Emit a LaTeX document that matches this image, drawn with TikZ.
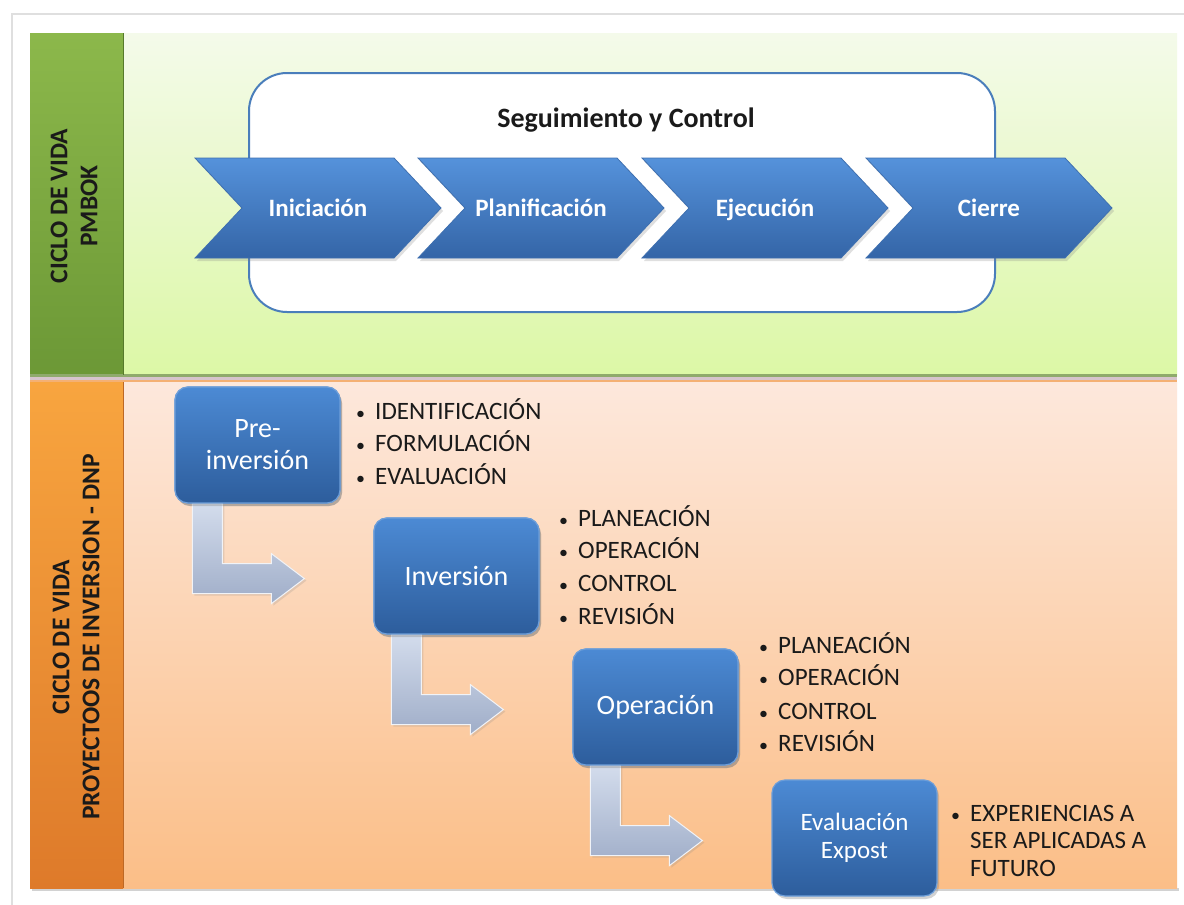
\documentclass[tikz,border=0pt]{standalone}
\usepackage{fontspec}
\usepackage{graphicx}
\setmainfont{Carlito}
\usetikzlibrary{calc,shadows}
\definecolor{grA}{HTML}{F4FAEA}
\definecolor{grB}{HTML}{DCF8A6}
\definecolor{gcA}{HTML}{8CB84B}
\definecolor{gcB}{HTML}{6C9836}
\definecolor{orA}{HTML}{FDE8DC}
\definecolor{orB}{HTML}{FBBE87}
\definecolor{ocA}{HTML}{F8A53F}
\definecolor{ocB}{HTML}{DE7A2A}
\definecolor{blA}{HTML}{5592DB}
\definecolor{blB}{HTML}{3465A7}
\definecolor{blE}{HTML}{3F70B0}
\definecolor{bxA}{HTML}{4C8AD4}
\definecolor{bxB}{HTML}{2D5D9C}
\definecolor{bxE}{HTML}{6D9ED9}
\definecolor{arA}{HTML}{D3DCEC}
\definecolor{arB}{HTML}{9FADC8}
\definecolor{frame}{HTML}{4A7EBB}
\definecolor{txt}{HTML}{1A1A1A}
\definecolor{sepA}{HTML}{8FAA6C}
\definecolor{sepB}{HTML}{D6C4CC}
\definecolor{sepC}{HTML}{F4B073}
\tikzset{
  chevshape/.style={top color=blA, bottom color=blB, draw=blE, line width=0.8pt,
    drop shadow={shadow xshift=2pt, shadow yshift=-3pt, opacity=0.25}},
  chevtext/.style={text=white, font=\bfseries\fontsize{25}{30}\selectfont, inner sep=0pt, anchor=base},
  bbox/.style={rectangle, rounded corners=13pt, minimum width=165pt, minimum height=116pt,
    top color=bxA, bottom color=bxB, draw=bxE, line width=1.2pt, text=white,
    align=center, font=\fontsize{28}{32}\selectfont, inner sep=0pt,
    drop shadow={shadow xshift=2pt, shadow yshift=-3pt, opacity=0.35}},
  barrow/.style={top color=arA, bottom color=arB, draw=white!85!arB, line width=1pt,
    drop shadow={shadow xshift=2pt, shadow yshift=-2pt, opacity=0.2}},
  item/.style={anchor=base west, inner sep=0pt, text=txt, font=\fontsize{25}{30}\selectfont},
  sidelabel/.style={rotate=90, align=center, text=txt, inner sep=0pt,
    font=\bfseries\fontsize{25.5}{30}\selectfont},
}
\newcommand{\bul}{\makebox[19pt][l]{\scalebox{0.72}{\textbullet}}}
\begin{document}
\begin{tikzpicture}[x=1pt,y=-1pt]
\useasboundingbox (0,0) rectangle (1184,905);
\fill[white] (0,0) rectangle (1184,905);
% page frame
\draw[gray!25, line width=2pt] (12,905) -- (12,14) -- (1184,14);
% shadows under bands
\fill[gray!35] (32,888) rectangle (1179,891);
% green band
\fill[top color=grA, bottom color=grB] (123,33) rectangle (1177,375);
\fill[top color=gcA, bottom color=gcB] (30,33) rectangle (123,375);
\fill[sepA] (30,374) rectangle (1177,377);
\fill[sepB] (30,377) rectangle (1177,380);
\fill[sepC] (30,380) rectangle (1177,382);
% orange band
\fill[top color=orA, bottom color=orB] (123,382) rectangle (1177,888);
\fill[top color=ocA, bottom color=ocB] (30,382) rectangle (123,888);
\draw[gcB!80!black, line width=0.6pt] (123,33) -- (123,375);
\draw[ocB!85!black, line width=0.6pt] (123,382) -- (123,888);
% side labels
\node[sidelabel] (lpm) at (74,206) {CICLO DE VIDA\\PMBOK};
\node[sidelabel] (ldnp) at (76,637) {CICLO DE VIDA\\PROYECTOOS DE INVERSION - DNP};
% seguimiento y control frame
\draw[frame, line width=2pt, fill=white, rounded corners=38pt] (249,73) rectangle (995,312);
\node[inner sep=0pt, font=\bfseries\fontsize{28}{32}\selectfont, text=txt] (seg) at (626,120) {Seguimiento y Control};
% chevrons
\foreach \x/\nm/\t in {195/ini/Iniciación, 418/pla/Planificación, 642/eje/Ejecución, 866/cie/Cierre}{
  \path[chevshape] (\x,158) -- (\x+199,158) -- (\x+246,208) -- (\x+199,258) -- (\x,258) -- (\x+47,208) -- cycle;
  \node[chevtext] (\nm) at (\x+123,216.5) {\t};
}
% blue boxes (positions)
\node[bbox] (pre) at (257.5,445) {Pre-\\inversión};
\node[bbox] (inv) at (456.5,576) {Inversión};
\node[bbox] (ope) at (655.5,707) {Operación};
\node[bbox, font=\fontsize{25}{28}\selectfont] (eva) at (854.5,838) {Evaluación\\Expost};
% bent arrows
\foreach \b in {pre,inv,ope}{
  \path[barrow] ($(\b.south west)+(18,0)$) -- ++(30,0) -- ++(0,60) -- ++(49,0) -- ++(0,-10)
     -- ++(33,25) -- ++(-33,25) -- ++(0,-10) -- ++(-79,0) -- cycle;
}
% redraw boxes over arrows
\node[bbox] (pre2) at (pre) {Pre-\\inversión};
\node[bbox] (inv2) at (inv) {Inversión};
\node[bbox] (ope2) at (ope) {Operación};
% bullet lists
\node[item] (p1) at (356,419) {\bul IDENTIFICACIÓN};
\node[item] (p2) at (356,451) {\bul FORMULACIÓN};
\node[item] (p3) at (356,484) {\bul EVALUACIÓN};
\node[item] (i1) at (559,526) {\bul PLANEACIÓN};
\node[item] (i2) at (559,558) {\bul OPERACIÓN};
\node[item] (i3) at (559,591) {\bul CONTROL};
\node[item] (i4) at (559,624) {\bul REVISIÓN};
\node[item] (o1) at (759,653) {\bul PLANEACIÓN};
\node[item] (o2) at (759,685) {\bul OPERACIÓN};
\node[item] (o3) at (759,719) {\bul CONTROL};
\node[item] (o4) at (759,751) {\bul REVISIÓN};
\node[item] (e1) at (951,821) {\bul EXPERIENCIAS A};
\node[item] (e2) at (970,848) {SER APLICADAS A};
\node[item] (e3) at (970,876) {FUTURO};
\end{tikzpicture}
\end{document}
